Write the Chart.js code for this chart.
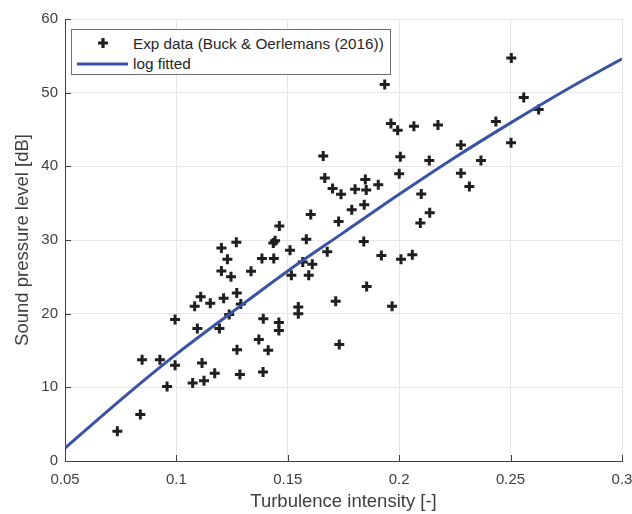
<!DOCTYPE html>
<html>
<head>
<meta charset="utf-8">
<script src="https://cdn.jsdelivr.net/npm/chart.js@4/dist/chart.umd.min.js"></script>
<style>
  html, body { margin: 0; padding: 0; background: #ffffff; }
  #wrap { position: relative; width: 632px; height: 514px; }
  #legend { position: absolute; left: 71px; top: 29px; width: 318px; height: 44px; border: 1px solid #6e6e6e; background: #fff; font-family: "Liberation Sans", Arial, sans-serif; font-size: 15.3px; color: #262626; }
  .lab { position: absolute; left: 61px; white-space: nowrap; line-height: 18px; }
  .sym { position: absolute; left: 0; }
</style>
</head>
<body>
<div id="wrap">
  <canvas id="c" width="632" height="514"></canvas>
  <div id="legend"></div>
</div>
<script>
// ---- data ----
const expX = [0.0735,0.0838,0.0846,0.0926,0.0994,0.0958,0.0994,0.1073,0.1124,0.1094,
              0.1115,0.1172,0.1193,0.1082,0.1152,0.1109,0.1212,0.1237,0.1272,0.1285,
              0.1370,0.1289,0.1271,0.1202,0.1269,0.1229,0.1202,0.1245,0.1335,0.1384,
              0.1437,0.1443,0.1435,0.1462,0.1510,0.1516,0.1567,0.1583,0.1594,0.1610,
              0.1603,0.1547,0.1547,0.1390,0.1460,0.1460,0.1412,0.1389,0.1677,0.1666,
              0.1701,0.1739,0.1728,0.1715,0.1731,0.1659,0.1787,0.1802,0.1843,0.1848,
              0.1852,0.1841,0.1854,0.1906,0.1920,0.1968,0.1935,0.1963,0.1993,0.2000,
              0.2005,0.2008,0.2059,0.2066,0.2095,0.2099,0.2137,0.2135,0.2174,0.2277,
              0.2277,0.2315,0.2367,0.2434,0.2502,0.2503,0.2559,0.2626];
const expY = [4.05,6.3,13.75,13.75,13.0,10.1,19.2,10.6,10.9,18.0,
              13.3,11.9,18.0,21.0,21.4,22.3,22.1,19.9,15.1,11.75,
              16.5,21.3,22.8,28.9,29.7,27.4,25.8,25.0,25.75,27.5,
              27.5,29.9,29.6,31.9,28.6,25.2,27.0,30.1,25.2,26.7,
              33.45,20.9,20.0,19.3,18.8,17.7,15.05,12.07,28.4,38.4,
              37.0,36.2,32.5,21.7,15.8,41.4,34.1,36.9,34.8,38.2,
              36.8,29.8,23.7,37.5,27.9,21.0,51.1,45.8,44.9,39.0,
              41.3,27.4,28.0,45.45,32.3,36.25,33.7,40.8,45.6,42.9,
              39.06,37.25,40.8,46.1,43.2,54.7,49.35,47.7];
const fitX = [0.05,0.075,0.1,0.125,0.15,0.175,0.2,0.225,0.25,0.275,0.3];
const fitY = [1.75,8.3,14.5,20.2,25.8,31.0,36.2,41.2,45.9,50.4,54.6];
const xTickVals = [0.05,0.1,0.15,0.2,0.25,0.3];
const xTickLabels = ['0.05','0.1','0.15','0.2','0.25','0.3'];
const yTickVals = [0,10,20,30,40,50,60];
const yTickLabels = ['0','10','20','30','40','50','60'];
const seriesNames = ['Exp data (Buck & Oerlemans (2016))','log fitted'];

const FONT = '"Liberation Sans", Arial, sans-serif';
const AX = '#404040';
const MARK = '#1f1f1f';
const BLUE = '#3953a4';

const expPts = expX.map((x,i)=>({x:x, y:expY[i]}));
const fitPts = fitX.map((x,i)=>({x:x, y:fitY[i]}));

const inwardTicks = {
  id: 'inwardTicks',
  afterDraw(chart) {
    const ctx = chart.ctx, xs = chart.scales.x, ys = chart.scales.y, a = chart.chartArea;
    ctx.save();
    ctx.strokeStyle = AX; ctx.lineWidth = 1;
    ctx.beginPath();
    xTickVals.forEach(v => { const p = Math.round(xs.getPixelForValue(v)) + 0.5; ctx.moveTo(p, a.bottom); ctx.lineTo(p, a.bottom - 6); });
    yTickVals.forEach(v => { const p = Math.round(ys.getPixelForValue(v)) + 0.5; ctx.moveTo(a.left, p); ctx.lineTo(a.left + 6, p); });
    ctx.stroke();
    ctx.restore();
  }
};

new Chart(document.getElementById('c'), {
  type: 'scatter',
  data: {
    datasets: [
      { label: seriesNames[0], data: expPts, pointStyle: 'cross', pointRadius: 5, pointHoverRadius: 5,
        borderColor: MARK, backgroundColor: MARK, pointBorderWidth: 3, borderWidth: 3, showLine: false, order: 2 },
      { label: seriesNames[1], data: fitPts, showLine: true, pointRadius: 0, borderColor: BLUE, backgroundColor: BLUE,
        borderWidth: 3, cubicInterpolationMode: 'monotone', order: 1 }
    ]
  },
  options: {
    responsive: false, animation: false, devicePixelRatio: 1,
    layout: { padding: { top: 19, right: 10, left: 0, bottom: 0 } },
    plugins: { legend: { display: false }, tooltip: { enabled: false } },
    scales: {
      x: {
        type: 'linear', min: 0.05, max: 0.3,
        afterBuildTicks: s => { s.ticks = xTickVals.map(v => ({ value: v })); },
        afterFit: s => { s.height = 53; s.paddingLeft = 0; s.paddingRight = 0; },
        ticks: { callback: (v, i) => xTickLabels[i], color: AX, font: { family: FONT, size: 15 }, padding: 10, maxRotation: 0, autoSkip: false },
        grid: { color: '#e6e6e6', lineWidth: 1, drawTicks: false },
        border: { color: AX, width: 1 },
        title: { display: true, text: 'Turbulence intensity [-]', color: AX, font: { family: FONT, size: 18.5 }, padding: { top: 2, bottom: 1 } }
      },
      y: {
        type: 'linear', min: 0, max: 60,
        afterBuildTicks: s => { s.ticks = yTickVals.map(v => ({ value: v })); },
        afterFit: s => { s.width = 65; s.paddingTop = 0; s.paddingBottom = 0; },
        ticks: { callback: (v, i) => yTickLabels[i], color: AX, font: { family: FONT, size: 15 }, padding: 7, autoSkip: false },
        grid: { color: '#e6e6e6', lineWidth: 1, drawTicks: false },
        border: { color: AX, width: 1 },
        title: { display: true, text: 'Sound pressure level [dB]', color: AX, font: { family: FONT, size: 18.5 }, padding: { top: 12, bottom: 0 } }
      }
    }
  },
  plugins: [inwardTicks]
});

// HTML legend built from the series names
const lg = document.getElementById('legend');
lg.innerHTML =
  '<svg class="sym" style="top:6px;left:24px" width="14" height="14"><path d="M7 2 V12 M2 7 H12" stroke="' + MARK + '" stroke-width="3.2"/></svg>' +
  '<div class="lab" style="top:5px"></div>' +
  '<svg class="sym" style="top:27px;left:5px" width="51" height="14"><line x1="0" y1="7" x2="51" y2="7" stroke="' + BLUE + '" stroke-width="3"/></svg>' +
  '<div class="lab" style="top:25px"></div>';
const labs = lg.querySelectorAll('.lab');
labs[0].textContent = seriesNames[0];
labs[1].textContent = seriesNames[1];
</script>
</body>
</html>
